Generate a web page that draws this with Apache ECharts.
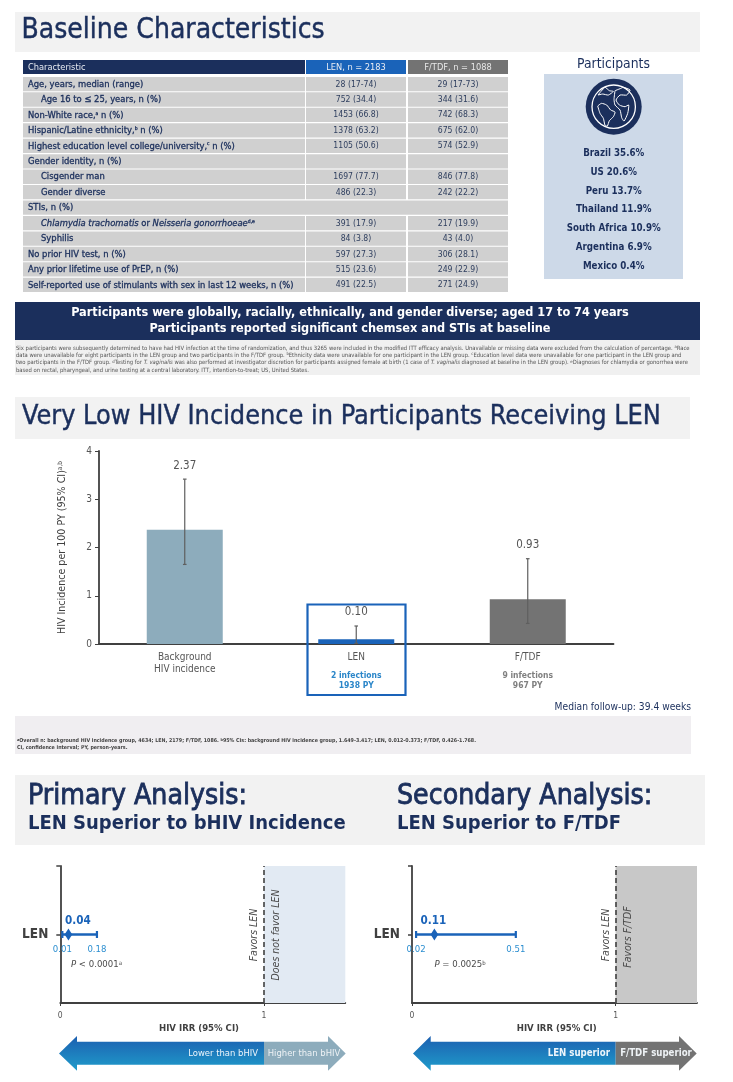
<!DOCTYPE html>
<html><head><meta charset="utf-8">
<style>html,body{margin:0;padding:0;background:#fff}#c{width:733px;height:1082px}</style>
<script src="https://cdn.jsdelivr.net/npm/echarts@6/dist/echarts.min.js"></script>
</head><body><div id="c"></div>
<script>
const tableHeader = ['Characteristic','LEN, n = 2183','F/TDF, n = 1088'];
const rowLabels = ['Age, years, median (range)','Age 16 to ≤ 25, years, n (%)','Non-White race,{s|a} n (%)','Hispanic/Latine ethnicity,{s|b} n (%)','Highest education level college/university,{s|c} n (%)','Gender identity, n (%)','Cisgender man','Gender diverse','STIs, n (%)','{i|Chlamydia trachomatis} or {i|Neisseria gonorrhoeae}{s|d,e}','Syphilis','No prior HIV test, n (%)','Any prior lifetime use of PrEP, n (%)','Self-reported use of stimulants with sex in last 12 weeks, n (%)'];
const rowIndented = [false,true,false,false,false,false,true,true,false,true,true,false,false,false];
const lenColumn = ['28 (17-74)','752 (34.4)','1453 (66.8)','1378 (63.2)','1105 (50.6)','','1697 (77.7)','486 (22.3)','','391 (17.9)','84 (3.8)','597 (27.3)','515 (23.6)','491 (22.5)'];
const ftdfColumn = ['29 (17-73)','344 (31.6)','742 (68.3)','675 (62.0)','574 (52.9)','','846 (77.8)','242 (22.2)','','217 (19.9)','43 (4.0)','306 (28.1)','249 (22.9)','271 (24.9)'];
const countries = ['Brazil 35.6%','US 20.6%','Peru 13.7%','Thailand 11.9%','South Africa 10.9%','Argentina 6.9%','Mexico 0.4%'];
const bannerLines = ['Participants were globally, racially, ethnically, and gender diverse; aged 17 to 74 years','Participants reported significant chemsex and STIs at baseline'];
const footnote1 = [
 'Six participants were subsequently determined to have had HIV infection at the time of randomization, and thus 3265 were included in the modified ITT efficacy analysis. Unavailable or missing data were excluded from the calculation of percentage. {s|a}Race',
 'data were unavailable for eight participants in the LEN group and two participants in the F/TDF group. {s|b}Ethnicity data were unavailable for one participant in the LEN group. {s|c}Education level data were unavailable for one participant in the LEN group and',
 'two participants in the F/TDF group. {s|d}Testing for {i|T. vaginalis} was also performed at investigator discretion for participants assigned female at birth (1 case of {i|T. vaginalis} diagnosed at baseline in the LEN group). {s|e}Diagnoses for chlamydia or gonorrhea were',
 'based on rectal, pharyngeal, and urine testing at a central laboratory. ITT, intention-to-treat; US, United States.'];
const footnote2 = [
 '{s|a}Overall n: background HIV incidence group, 4634; LEN, 2179; F/TDF, 1086. {s|b}95% CIs: background HIV incidence group, 1.649-3.417; LEN, 0.012-0.373; F/TDF, 0.426-1.768.',
 'CI, confidence interval; PY, person-years.'];

const incidenceCategories = ['Background\nHIV incidence','LEN','F/TDF'];
const incidenceValues = [2.37,0.10,0.93];
const incidenceLow = [1.649,0.012,0.426];
const incidenceHigh = [3.417,0.373,1.768];
const incidenceText = ['2.37','0.10','0.93'];
const incidenceSub = [[],['2 infections','1938 PY'],['9 infections','967 PY']];
const incidenceAxisTicks = [0,1,2,3,4];

const forestCategory = ['LEN'];
const primaryCI = [0.04,0.01,0.18];
const secondaryCI = [0.11,0.02,0.51];
const forestTicks = [0,1];
const forestBoundary = 1;
const forestMax = 1.4;

const NAVY='#1b2f5c',BLUE='#1a63b9',GREY='#737373',TEAL='#8dacbc',DARK='#404040',TXT='#4a4a4a';
const FONT='"DejaVu Sans Condensed","DejaVu Sans",sans-serif';

function T(x,y,text,size,fill,o){o=o||{};
  return {type:'text',x:x,y:y,rotation:o.rot||0,z:o.z||5,silent:true,style:{text:text,fontFamily:FONT,fontSize:size,fontWeight:o.w||'normal',fontStyle:o.st||'normal',fill:fill,align:o.a||'left',verticalAlign:'middle',rich:o.rich,stroke:o.sw?fill:undefined,lineWidth:o.sw||0}};}
function R(x,y,w,h,fill,o){o=o||{};
  return {type:'rect',z:o.z===undefined?1:o.z,silent:true,shape:{x:x,y:y,width:w,height:h},style:{fill:fill,stroke:o.stroke,lineWidth:o.lw}};}
const g=[];
// panels
g.push(R(15,12,685,40,'#f2f2f2'));
g.push(T(21.5,31,'Baseline Characteristics',28,NAVY,{sw:0.4}));
// table
g.push(R(23,60,282,14,NAVY),R(306,60,100,14,BLUE),R(408,60,100,14,GREY));
g.push(T(28,67.5,tableHeader[0],9.2,'#e8ecf3'),T(356,67.5,tableHeader[1],9.2,'#e8ecf3',{a:'center'}),T(458,67.5,tableHeader[2],9.2,'#e8e8e8',{a:'center'}));
const cellRich={s:{fontSize:5,verticalAlign:'top',padding:[0,0,4,0],fill:NAVY,fontFamily:FONT},i:{fontStyle:'italic',fill:NAVY,fontFamily:FONT,fontSize:9.35}};
rowLabels.forEach((lab,i)=>{
  const y=76.9+i*15.45,h=14.3,cy=y+h/2+0.3;
  if(i===8){g.push(R(23,y,485,h,'#d0d0d0'));}
  else{g.push(R(23,y,282,h,'#d0d0d0'),R(306,y,100,h,'#d0d0d0'),R(408,y,100,h,'#d0d0d0'));}
  g.push(T(rowIndented[i]?41:28,cy,lab,9.35,NAVY,{sw:0.3,rich:cellRich}));
  if(lenColumn[i])g.push(T(356,cy,lenColumn[i],8.6,'#2e3e5e',{a:'center'}));
  if(ftdfColumn[i])g.push(T(458,cy,ftdfColumn[i],8.6,'#2e3e5e',{a:'center'}));
});
// participants
g.push(T(613.5,64,'Participants',13.8,NAVY,{a:'center'}));
g.push(R(544,74,139,205,'#cdd9e8'));
g.push({type:'circle',z:2,silent:true,shape:{cx:613.7,cy:106.7,r:28},style:{fill:NAVY}});
g.push({type:'circle',z:3,silent:true,shape:{cx:613.7,cy:106.7,r:21.7},style:{fill:'none',stroke:'#fff',lineWidth:1.3}});
const gp=pts=>pts.map(p=>[(p[0]-251)/3+613.7,(p[1]-170)/3+106.7]);
const globePaths=[
 [[203,168],[214,160],[230,165],[242,180],[255,186],[250,200],[238,212],[232,228],[225,226],[220,205],[210,190],[203,168]],
 [[204,135],[225,112],[238,122],[250,124],[235,135],[218,132],[204,135]],
 [[255,122],[270,116],[280,112],[300,120],[290,135],[270,135],[258,150],[268,165],[285,170],[296,165],[293,190],[282,213],[275,203],[270,180],[255,165],[252,148],[255,122]]];
globePaths.forEach(p=>g.push({type:'polyline',z:3,silent:true,shape:{points:gp(p),smooth:0.2},style:{fill:'none',stroke:'#fff',lineWidth:1,lineJoin:'round'}}));
countries.forEach((c,i)=>g.push(T(613.7,153.3+i*18.85,c,9.7,NAVY,{a:'center',w:'bold'})));
// banner
g.push(R(15,302,685,38,NAVY));
g.push(T(350,313,bannerLines[0],12.6,'#fff',{a:'center',w:'bold'}),T(350,329,bannerLines[1],12.6,'#fff',{a:'center',w:'bold'}));
g.push(R(15,340,685,35,'#f0f0f0'));
const fnRich={s:{fontSize:4.2,verticalAlign:'top',fill:'#555',fontFamily:FONT},i:{fontStyle:'italic',fontSize:5.85,fill:'#555',fontFamily:FONT}};
const fnRich2={s:{fontSize:3.8,verticalAlign:'top',fill:'#444',fontFamily:FONT,fontWeight:'bold'}};
footnote1.forEach((l,i)=>g.push(T(16,348+i*7.4,l,5.85,'#555',{rich:fnRich})));
// section 2
g.push(R(15,397,675,42,'#f2f2f2'));
g.push(T(22,417,'Very Low HIV Incidence in Participants Receiving LEN',26.8,NAVY,{sw:0.4}));
g.push({type:'rect',z:10,silent:true,shape:{x:307.5,y:604.5,width:98,height:90.5},style:{fill:'none',stroke:BLUE,lineWidth:2.2}});
g.push(T(691,707.5,'Median follow-up: 39.4 weeks',10.2,NAVY,{a:'right'}));
g.push(R(15,716,676,38,'#f0eef1'));
footnote2.forEach((l,i)=>g.push(T(17,740.5+i*7.2,l,5.3,'#444',{w:'bold',rich:fnRich2})));
// section 3
g.push(R(15,775,690,70,'#f2f2f2'));
g.push(T(28,797,'Primary Analysis:',28.2,NAVY,{sw:0.8}),T(28,824,'LEN Superior to bHIV Incidence',20,NAVY,{w:'bold'}));
g.push(T(397,797,'Secondary Analysis:',28.2,NAVY,{sw:0.8}),T(397,824,'LEN Superior to F/TDF',20,NAVY,{w:'bold'}));
// forest extras
[[60.3],[412]].forEach(a=>g.push({type:'line',z:3,silent:true,shape:{x1:a[0]-4,y1:866,x2:a[0],y2:866},style:{stroke:DARK,lineWidth:1.5}}));
g.push(T(254,935,'Favors LEN',10.5,TXT,{a:'center',st:'italic',rot:Math.PI/2}));
g.push(T(276,935,'Does not favor LEN',10.5,TXT,{a:'center',st:'italic',rot:Math.PI/2}));
g.push(T(606,935,'Favors LEN',10.5,TXT,{a:'center',st:'italic',rot:Math.PI/2}));
g.push(T(628.7,937,'Favors F/TDF',10.5,TXT,{a:'center',st:'italic',rot:Math.PI/2}));
g.push(T(199,1029,'HIV IRR (95% CI)',9.5,DARK,{a:'center',w:'bold'}),T(556.7,1029,'HIV IRR (95% CI)',9.5,DARK,{a:'center',w:'bold'}));
const supP={s:{fontSize:6,verticalAlign:'top',fill:TXT,fontFamily:FONT,padding:[0,0,4,0]},i:{fontStyle:'italic',fontSize:9.5,fill:TXT,fontFamily:FONT}};
g.push(T(71,965,'{i|P} < 0.0001{s|a}',9.5,TXT,{rich:supP}),T(434.5,965,'{i|P} = 0.0025{s|b}',9.5,TXT,{rich:supP}));
// direction arrows
function arrow(x0,xh0,split,xh1,x1,color,l,lx,r,rx,sz,w){
  const grad={type:'linear',x:0,y:0,x2:0,y2:1,colorStops:[{offset:0,color:'#1c5fb0'},{offset:1,color:'#1f9ccb'}]};
  g.push({type:'polygon',z:2,silent:true,shape:{points:[[x0,1053.5],[xh0,1036],[xh0,1041.7],[split,1041.7],[split,1064.7],[xh0,1064.7],[xh0,1070.7]]},style:{fill:grad}});
  g.push({type:'polygon',z:2,silent:true,shape:{points:[[split,1041.7],[xh1,1041.7],[xh1,1036],[x1,1053.5],[xh1,1070.7],[xh1,1064.7],[split,1064.7]]},style:{fill:color}});
  g.push(T(lx,1053.7,l,sz,'#eef6fb',{a:'right',w:w}),T(rx,1053.7,r,sz,'#eef2f5',{a:'center',w:w}));
}
arrow(59,77,264,328,345.7,TEAL,'Lower than bHIV',258,'Higher than bHIV',304,9.4);
arrow(413,430.7,615.7,679,696.7,GREY,'LEN superior',610,'F/TDF superior',656,9.6,'bold');

function errorBars(params,api){
  const i=api.value(0),lo=api.coord([i,api.value(1)]),hi=api.coord([i,api.value(2)]),x=lo[0],base=api.coord([i,0]);
  const els=[
   {type:'line',shape:{x1:x,y1:lo[1],x2:x,y2:hi[1]},style:{stroke:'#5f5f5f',lineWidth:1.2}},
   {type:'line',shape:{x1:x-1.8,y1:lo[1],x2:x+1.8,y2:lo[1]},style:{stroke:'#5f5f5f',lineWidth:1.2}},
   {type:'line',shape:{x1:x-1.8,y1:hi[1],x2:x+1.8,y2:hi[1]},style:{stroke:'#5f5f5f',lineWidth:1.2}},
   {type:'text',x:x,y:hi[1]-13.5,style:{text:incidenceText[i],fontFamily:FONT,fontSize:11.5,fill:'#555',align:'center',verticalAlign:'middle'}}];
  incidenceSub[i].forEach((s,k)=>els.push({type:'text',x:x,y:base[1]+31.5+k*10.6,style:{text:s,fontFamily:FONT,fontSize:8.5,fontWeight:'bold',fill:i===1?'#2b86c9':'#808080',align:'center',verticalAlign:'middle'}}));
  return {type:'group',children:els};
}
function forestRender(ci,offsets){
  return function(params,api){
    const y=api.coord([0,0])[1],c=v=>api.coord([v,0])[0];
    const p=c(ci[0]),lo=c(ci[1]),hi=c(ci[2]);
    const lab=(x,yy,t,sz,col,w)=>({type:'text',x:x,y:yy,style:{text:t,fontFamily:FONT,fontSize:sz,fontWeight:w||'normal',fill:col,align:'center',verticalAlign:'middle'}});
    return {type:'group',children:[
      {type:'line',shape:{x1:lo,y1:y,x2:hi,y2:y},style:{stroke:BLUE,lineWidth:2.3}},
      {type:'line',shape:{x1:lo,y1:y-3.5,x2:lo,y2:y+3.5},style:{stroke:BLUE,lineWidth:2.2}},
      {type:'line',shape:{x1:hi,y1:y-3.5,x2:hi,y2:y+3.5},style:{stroke:BLUE,lineWidth:2.2}},
      {type:'polygon',shape:{points:[[p,y-6],[p+3.8,y],[p,y+6],[p-3.8,y]]},style:{fill:BLUE}},
      lab(p+offsets,921,ci[0].toFixed(2),11.6,BLUE,'bold'),
      lab(lo,950,ci[1].toFixed(2),9.5,'#2b8ed0'),
      lab(hi,950,ci[2].toFixed(2),9.5,'#2b8ed0')]};
  };
}
function forestX(i){return {type:'value',gridIndex:i,min:0,max:forestMax,interval:1,
  axisLine:{show:true,lineStyle:{color:DARK,width:1.8}},splitLine:{show:false},
  axisTick:{show:true,length:3,customValues:forestTicks,lineStyle:{color:DARK}},
  axisLabel:{customValues:forestTicks,fontFamily:FONT,fontSize:8.5,color:'#555',margin:8,formatter:v=>String(v)}};}
function forestY(i){return {type:'category',gridIndex:i,data:forestCategory,
  axisLine:{show:true,lineStyle:{color:DARK,width:1.8}},axisTick:{show:true,alignWithLabel:true,length:4,lineStyle:{color:DARK,width:1.5}},
  axisLabel:{fontFamily:FONT,fontSize:13.5,fontWeight:'bold',color:DARK,margin:12}};}
function forestSeries(i,ci,shade,off){return {type:'custom',xAxisIndex:i,yAxisIndex:i,data:[ci],encode:{x:0},clip:false,silent:true,renderItem:forestRender(ci,off),z:5,
  markArea:{silent:true,itemStyle:{color:shade},data:[[{xAxis:forestBoundary},{xAxis:forestMax}]]},
  markLine:{silent:true,symbol:'none',label:{show:false},lineStyle:{color:DARK,type:[5,3],width:1.6},data:[{xAxis:forestBoundary}]}};}

const chart=echarts.init(document.getElementById('c'),null,{width:733,height:1082});
chart.setOption({
  animation:false,backgroundColor:'#fff',tooltip:{show:false},
  grid:[{left:99,top:451,width:514.5,height:193},{left:60.3,top:866,width:285,height:137},{left:412,top:866,width:285,height:137}],
  xAxis:[{type:'category',gridIndex:0,data:incidenceCategories,axisTick:{show:false},
     axisLine:{lineStyle:{color:DARK,width:1.8}},
     axisLabel:{interval:0,fontFamily:FONT,fontSize:10,color:'#555',margin:7,lineHeight:12}},
     forestX(1),forestX(2)],
  yAxis:[{type:'value',gridIndex:0,min:0,max:4,interval:1,splitLine:{show:false},
     axisLine:{show:true,lineStyle:{color:DARK,width:1.8}},axisTick:{show:true,length:4,lineStyle:{color:DARK}},
     axisLabel:{customValues:incidenceAxisTicks,fontFamily:FONT,fontSize:10,color:'#555',margin:7},
     name:'HIV Incidence per 100 PY (95% CI){s|a,b}',nameLocation:'middle',nameGap:31,nameRotate:90,
     nameTextStyle:{fontFamily:FONT,fontSize:10.6,color:DARK,rich:{s:{fontSize:6.5,verticalAlign:'top',fontFamily:FONT,color:DARK,padding:[0,0,3,0]}}}},
     forestY(1),forestY(2)],
  series:[
    {type:'bar',xAxisIndex:0,yAxisIndex:0,barWidth:76,silent:true,data:incidenceValues.map((v,i)=>({value:v,itemStyle:{color:[TEAL,BLUE,GREY][i]}}))},
    {type:'custom',xAxisIndex:0,yAxisIndex:0,clip:false,silent:true,z:5,renderItem:errorBars,data:incidenceLow.map((l,i)=>[i,l,incidenceHigh[i]])},
    forestSeries(1,primaryCI,'#e2eaf3',9.5),
    forestSeries(2,secondaryCI,'#c8c8c8',-1)
  ],
  graphic:{elements:g}
});
</script></body></html>
